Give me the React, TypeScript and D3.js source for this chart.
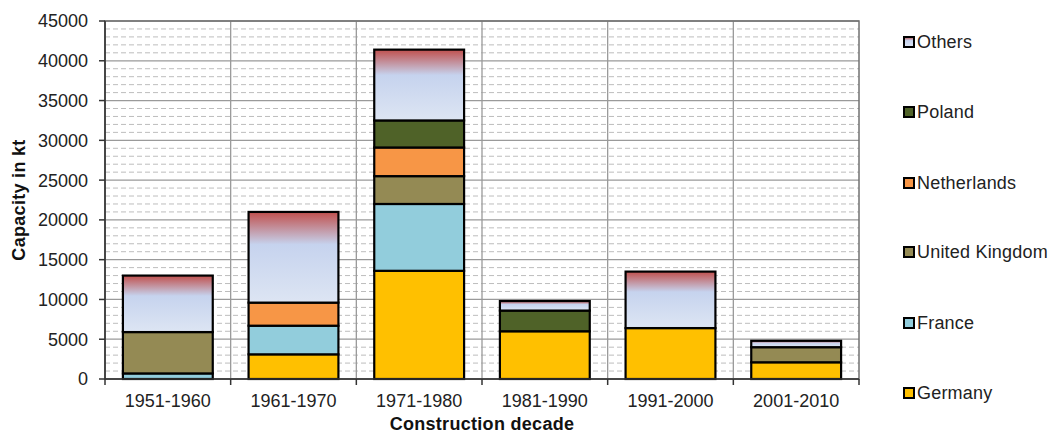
import React from "react";
import * as d3 from "d3";

const categories = ["1951-1960", "1961-1970", "1971-1980", "1981-1990", "1991-2000", "2001-2010"];
const seriesNames = ["Germany", "France", "United Kingdom", "Netherlands", "Poland", "Others"];
const germany = [0, 3100, 13600, 6000, 6400, 2100];
const france = [700, 3600, 8400, 0, 0, 0];
const unitedKingdom = [5200, 0, 3500, 0, 0, 1900];
const netherlands = [0, 2900, 3600, 0, 0, 0];
const poland = [0, 0, 3400, 2600, 0, 0];
const others = [7100, 11400, 8900, 1200, 7100, 800];
const yTicks = [0, 5000, 10000, 15000, 20000, 25000, 30000, 35000, 40000, 45000];

const seriesValues = [germany, france, unitedKingdom, netherlands, poland, others];
const colors = ["#FFC000", "#92CDDC", "#948A54", "#F79646", "#4F6228", "url(#othersGrad)"];

export default function App() {
  const W = 1052, H = 433;
  const left = 105, right = 859, top = 21, bottom = 379;
  const x = d3.scaleBand<string>().domain(categories).range([left, right]).paddingInner(0.285).paddingOuter(0.1425);
  const xb = d3.scaleBand<string>().domain(categories).range([left, right]).padding(0);
  const y = d3.scaleLinear().domain([0, 45000]).range([bottom, top]);

  const table = categories.map((c, i) => {
    const row: any = { cat: c };
    seriesNames.forEach((s, j) => (row[s] = seriesValues[j][i]));
    return row;
  });
  const stacked = d3.stack<any>().keys(seriesNames)(table);
  const minor = d3.range(1000, 45000, 1000).filter((v) => v % 5000 !== 0);
  const font = "'Liberation Sans', Arial, sans-serif";
  const legendY = [393, 323, 252, 183, 112, 42];

  return (
    <svg width={W} height={H} style={{ position: "absolute", left: 0, top: 0, background: "#fff" }} fontFamily={font}>
      <defs>
        <linearGradient id="othersGrad" x1="0" y1="0" x2="0" y2="1">
          <stop offset="0" stopColor="#C0504D" />
          <stop offset="0.36" stopColor="#C6D3EE" />
          <stop offset="1" stopColor="#DDE5F3" />
        </linearGradient>
      </defs>
      <rect x={0} y={0} width={W} height={H} fill="#fff" />
      {minor.map((v) => (
        <line key={"m" + v} x1={left} x2={right} y1={y(v)} y2={y(v)} stroke="#BDBDBD" strokeWidth={1} strokeDasharray="5,3" />
      ))}
      {yTicks.map((v) => (
        <line key={"g" + v} x1={left} x2={right} y1={y(v)} y2={y(v)} stroke="#9A9A9A" strokeWidth={1.3} />
      ))}
      {categories.map((c) => (
        <line key={"v" + c} x1={xb(c)!} x2={xb(c)!} y1={top} y2={bottom} stroke="#9A9A9A" strokeWidth={1.3} />
      ))}
      <rect x={left} y={top} width={right - left} height={bottom - top} fill="none" stroke="#707070" strokeWidth={1.5} />
      {stacked.map((layer, j) =>
        layer.map((d, i) =>
          d[1] - d[0] > 0 ? (
            <rect
              key={j + "-" + i}
              x={x(categories[i])!}
              width={x.bandwidth()}
              y={y(d[1])}
              height={y(d[0]) - y(d[1])}
              fill={colors[j]}
              stroke="#000"
              strokeWidth={2.2}
            />
          ) : null
        )
      )}
      <line x1={left} x2={left} y1={top} y2={bottom} stroke="#333" strokeWidth={1.5} />
      <line x1={left} x2={right} y1={bottom} y2={bottom} stroke="#333" strokeWidth={1.5} />
      {yTicks.map((v) => (
        <g key={"yt" + v}>
          <line x1={left - 6} x2={left} y1={y(v)} y2={y(v)} stroke="#333" strokeWidth={1.5} />
          <text x={88} y={y(v)} dy="0.36em" textAnchor="end" fontSize={18} fill="#222">
            {v}
          </text>
        </g>
      ))}
      {[...categories.map((c) => xb(c)!), right].map((px, i) => (
        <line key={"xt" + i} x1={px} x2={px} y1={bottom} y2={bottom + 6} stroke="#333" strokeWidth={1.5} />
      ))}
      {categories.map((c) => (
        <text key={"xl" + c} x={xb(c)! + xb.bandwidth() / 2} y={407} textAnchor="middle" fontSize={18} fill="#222">
          {c}
        </text>
      ))}
      <text x={(left + right) / 2} y={430} textAnchor="middle" fontSize={18} fontWeight="bold" fill="#111" letterSpacing={0.3}>
        Construction decade
      </text>
      <text transform={`translate(25,${(top + bottom) / 2}) rotate(-90)`} textAnchor="middle" fontSize={18} fontWeight="bold" fill="#111" letterSpacing={0.3}>
        Capacity in kt
      </text>
      {seriesNames.map((s, j) => (
        <g key={"lg" + s}>
          <rect x={904} y={legendY[j] - 5} width={10} height={10} fill={colors[j]} stroke="#000" strokeWidth={2} />
          <text x={917} y={legendY[j]} dy="0.36em" fontSize={18} fill="#222" letterSpacing={0.2}>
            {s}
          </text>
        </g>
      ))}
    </svg>
  );
}
